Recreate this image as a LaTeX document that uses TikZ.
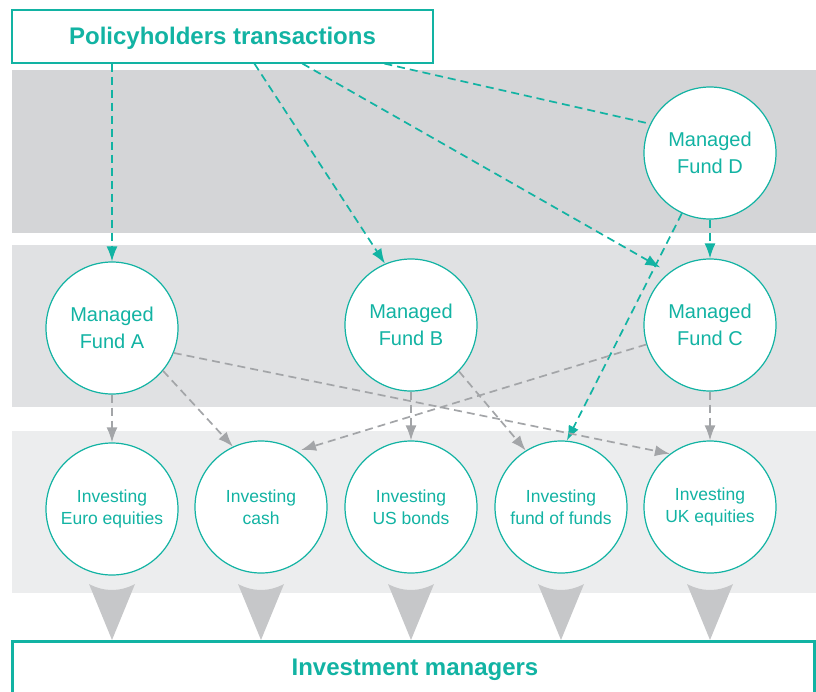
\documentclass[tikz,border=0pt]{standalone}
\usepackage{fontspec}
\setmainfont{Liberation Sans}
\usetikzlibrary{positioning,arrows.meta}

\definecolor{teal}{HTML}{12B3A3}
\definecolor{bandA}{HTML}{D4D5D7}
\definecolor{bandB}{HTML}{E0E1E3}
\definecolor{bandC}{HTML}{ECEDEE}
\definecolor{flowgray}{HTML}{A3A5A8}
\definecolor{funnelgray}{HTML}{C6C7C9}

\tikzset{
  fund/.style={circle, draw=teal, fill=white, line width=1.2pt, minimum size=132pt,
    inner sep=0pt, align=center, text=teal, font=\fontsize{20}{27}\selectfont},
  invest/.style={fund, font=\fontsize{17.5}{22}\selectfont},
  titlebox/.style={draw=teal, line width=1.2pt, fill=white, text=teal,
    font=\fontsize{24}{28}\selectfont\bfseries},
  tealflow/.style={draw=teal, line width=1.7pt, dash pattern=on 8pt off 5pt,
    -{Latex[length=15pt,width=11pt]}},
  grayflow/.style={tealflow, draw=flowgray},
}

\begin{document}
\begin{tikzpicture}[x=1pt,y=-1pt]
  \useasboundingbox (0,0) rectangle (816,691);

  % Les bandes de fond
  \fill[bandA] (12,70) rectangle (816,233);
  \fill[bandB] (12,245) rectangle (816,407);
  \fill[bandC] (12,431) rectangle (816,593);

  % Les entonnoirs vers les gérants
  \foreach \x in {112,261,411,561,710}
    \fill[funnelgray] (\x-23,584) .. controls (\x-8,592) and (\x+8,592) .. (\x+23,584) -- (\x,640) -- cycle;

  % Les cadres du haut et du bas
  \node[titlebox, minimum width=421pt, minimum height=53pt, text depth=2pt] (pol) at (222.5,36.5) {Policyholders transactions};
  \draw[teal, line width=3pt] (12,700) |- (814.5,641.5) -- (814.5,700);
  \node[text=teal, font=\fontsize{24}{28}\selectfont\bfseries] (mgr) at (415,670) {Investment managers};

  % Les fonds gérés
  \node[fund] (fd) at (710,153) {Managed\\Fund D};
  \node[fund] (fa) at (112,328) {Managed\\Fund A};
  \node[fund] (fb) at (411,325) {Managed\\Fund B};
  \node[fund] (fc) at (710,325) {Managed\\Fund C};

  % Les supports d'investissement
  \node[invest] (ieuro) at (112,509) {Investing\\Euro equities};
  \node[invest] (icash) at (261,507) {Investing\\cash};
  \node[invest] (ius) at (411,507) {Investing\\US bonds};
  \node[invest] (ifof) at (561,507) {Investing\\fund of funds};
  \node[invest] (iuk) at (710,507) {Investing\\UK equities};

  % Flux des assurés
  \draw[tealflow] (pol.south -| fa) -- (fa.north);
  \draw[tealflow] ([xshift=243pt]pol.south west) -- (fb.113);
  \draw[tealflow, shorten >=10pt] ([xshift=291pt]pol.south west) -- (fc.128);
  \draw[tealflow, -] ([xshift=373pt]pol.south west) -- (fd.154);
  \draw[tealflow] (fd.south) -- (fc.north);
  \draw[tealflow] (fd.245) -- (ifof.85);

  % Flux des fonds vers les supports
  \draw[grayflow] (fa.south) -- (ieuro.north);
  \draw[grayflow] (fa.-40) -- (icash.115);
  \draw[grayflow] (fa.-22) -- (iuk.127);
  \draw[grayflow] (fb.south) -- (ius.north);
  \draw[grayflow] (fb.-44) -- (ifof.122);
  \draw[grayflow, shorten >=4pt] (fc.-163) -- (icash.57);
  \draw[grayflow] (fc.south) -- (iuk.north);
\end{tikzpicture}
\end{document}
